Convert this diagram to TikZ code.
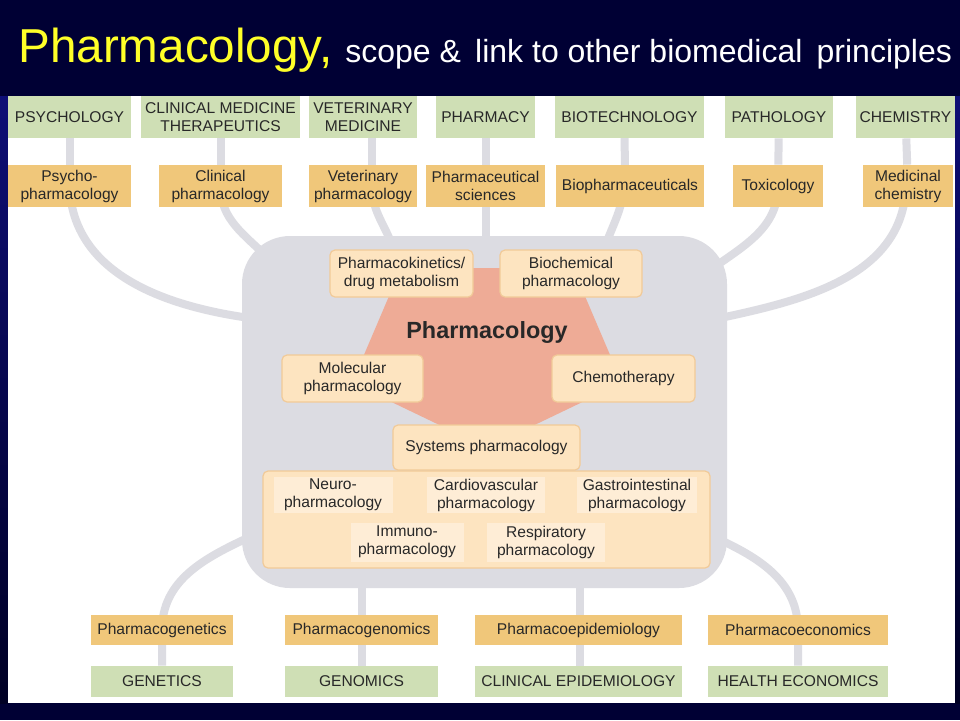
\documentclass[tikz,border=0pt]{standalone}
\usepackage{fontspec}
\setmainfont{Liberation Sans}
\pgfdeclarelayer{back}
\pgfdeclarelayer{bg}
\pgfsetlayers{back,bg,main}
\definecolor{navy}{RGB}{0,0,52}
\definecolor{edgeblue}{RGB}{14,14,118}
\definecolor{edgedark}{RGB}{0,0,36}
\definecolor{titleyellow}{RGB}{255,255,40}
\definecolor{fieldgreen}{RGB}{207,223,181}
\definecolor{branchorange}{RGB}{240,199,122}
\definecolor{peach}{RGB}{253,228,192}
\definecolor{peachline}{RGB}{241,202,152}
\definecolor{peachlight}{RGB}{254,237,214}
\definecolor{coregray}{RGB}{220,220,226}
\definecolor{salmon}{RGB}{238,171,150}
\definecolor{ink}{RGB}{40,40,40}
\tikzset{
  field/.style={fill=fieldgreen, text=ink, font=\fontsize{7.8}{9}\selectfont,
    align=center, inner sep=0pt, minimum height=21pt},
  branch/.style={field, fill=branchorange},
  topic/.style={draw=peachline, fill=peach, line width=0.6pt, rounded corners=2.5pt,
    text=ink, font=\fontsize{7.8}{9}\selectfont, align=center, inner sep=0pt,
    minimum height=23.5pt},
  part/.style={fill=peachlight, text=ink, font=\fontsize{7.8}{9}\selectfont,
    align=center, inner sep=0pt, minimum height=18pt},
  link/.style={draw=coregray, line width=4pt}
}
\begin{document}
\begin{tikzpicture}[x=0.5pt,y=-0.5pt]
\useasboundingbox (0,0) rectangle (960,720);
\begin{pgfonlayer}{back}
\fill[navy] (0,0) rectangle (960,720);
\shade[top color=edgeblue, bottom color=edgedark] (0,96) rectangle (8,703);
\shade[top color=edgeblue, bottom color=edgedark] (955,96) rectangle (960,703);
\fill[white] (8,96) rectangle (955,703);
\end{pgfonlayer}
\node[anchor=base west, inner sep=0pt, text=titleyellow, font=\fontsize{23.8}{28}\selectfont] (title) at (18,62) {Pharmacology,};
\node[anchor=base west, inner sep=0pt, text=white, font=\fontsize{16}{19}\selectfont] (subtitle) at (345,62) {scope \& \,link to other biomedical \,principles};

\node[field, minimum width=61.5pt] (psych) at (69.5,117) {PSYCHOLOGY};
\node[field, minimum width=79.5pt] (clin) at (220.5,117) {CLINICAL MEDICINE\\THERAPEUTICS};
\node[field, minimum width=54pt] (vet) at (363,117) {VETERINARY\\MEDICINE};
\node[field, minimum width=49.5pt] (pharmacy) at (485.5,117) {PHARMACY};
\node[field, minimum width=74.5pt] (biotech) at (629.5,117) {BIOTECHNOLOGY};
\node[field, minimum width=54pt] (patho) at (779,117) {PATHOLOGY};
\node[field, minimum width=49.5pt] (chem) at (905.5,117) {CHEMISTRY};

\node[branch, minimum width=61.5pt] (psychph) at (69.5,186) {Psycho-\\pharmacology};
\node[branch, minimum width=61.5pt] (clinph) at (220.5,186) {Clinical\\pharmacology};
\node[branch, minimum width=54pt] (vetph) at (363,186) {Veterinary\\pharmacology};
\node[branch, minimum width=59.5pt] (pharmsci) at (485.5,186) {Pharmaceutical\\sciences};
\node[branch, minimum width=74pt] (biopharm) at (630,186) {Biopharmaceuticals};
\node[branch, minimum width=45pt] (toxic) at (778,186) {Toxicology};
\node[branch, minimum width=45pt] (medchem) at (908,186) {Medicinal\\chemistry};

\node[fill=coregray, rounded corners=24pt, inner sep=0pt, minimum width=242.5pt, minimum height=176pt] (core) at (484.5,412) {};
\fill[salmon] (401,268) -- (573,268) -- (622,383) -- (520,432) -- (454,432) -- (352,383) -- cycle;
\node[topic, minimum width=71.5pt] (pk) at (401.5,273.5) {Pharmacokinetics/\\drug metabolism};
\node[topic, minimum width=71pt] (biochem) at (571,273.5) {Biochemical\\pharmacology};
\node[inner sep=0pt, text=ink, font=\fontsize{11.7}{14}\selectfont\bfseries] (centre) at (487,332) {Pharmacology};
\node[topic, minimum width=70.5pt] (molec) at (352.5,378.5) {Molecular\\pharmacology};
\node[topic, minimum width=71.5pt] (chemo) at (623.5,378.5) {Chemotherapy};
\node[topic, minimum width=93.5pt, minimum height=22.5pt] (systems) at (486.5,447.5) {Systems pharmacology};
\node[topic, minimum width=223.5pt, minimum height=48.5pt] (organs) at (486.5,519.5) {};
\node[part, minimum width=59.5pt] (neuro) at (333,495) {Neuro-\\pharmacology};
\node[part, minimum width=59pt] (cardio) at (486,495) {Cardiovascular\\pharmacology};
\node[part, minimum width=60pt] (gastro) at (637,495) {Gastrointestinal\\pharmacology};
\node[part, minimum width=56.5pt, minimum height=19.5pt] (immuno) at (407,542) {Immuno-\\pharmacology};
\node[part, minimum width=59pt, minimum height=19.5pt] (resp) at (546,542) {Respiratory\\pharmacology};

\node[branch, minimum width=71pt, minimum height=15pt] (pgenetics) at (162,630) {Pharmacogenetics};
\node[branch, minimum width=76.5pt, minimum height=15pt] (pgenomics) at (361.5,630) {Pharmacogenomics};
\node[branch, minimum width=103.5pt, minimum height=15pt] (pepi) at (578.5,630) {Pharmacoepidemiology};
\node[branch, minimum width=90pt, minimum height=15pt] (pecon) at (798,630) {Pharmacoeconomics};
\node[field, minimum width=71pt, minimum height=15.5pt] (genetics) at (162,681.5) {GENETICS};
\node[field, minimum width=76.5pt, minimum height=15.5pt] (genomics) at (361.5,681.5) {GENOMICS};
\node[field, minimum width=103.5pt, minimum height=15.5pt] (clinepi) at (578.5,681.5) {CLINICAL EPIDEMIOLOGY};
\node[field, minimum width=90pt, minimum height=15.5pt] (healthecon) at (798,681.5) {HEALTH ECONOMICS};

\begin{pgfonlayer}{bg}
\draw[link] (psych) -- (psychph);
\draw[link] (clin) -- (clinph);
\draw[link] ([xshift=4.5pt]vet.center) -- ([xshift=4.5pt]vetph.center);
\draw[link] (pharmacy) -- (pharmsci) -- ([yshift=-4pt]pharmsci |- core.north);
\draw[link] ([xshift=-2.5pt]biotech.center) -- ([xshift=-2.5pt]biopharm.center);
\draw[link] (patho) -- (toxic);
\draw[link] (chem) -- (medchem);
\draw[link] (psychph.center) to[out=-88,in=172] ([shift={(4pt,47pt)}]core.west);
\draw[link] (clinph.center) to[out=-90,in=135] ([shift={(13pt,-11pt)}]core.north west);
\draw[link] ([xshift=4.5pt]vetph.center) to[out=-90,in=112] ([shift={(75pt,-4pt)}]core.north west);
\draw[link] ([xshift=-3pt]biopharm.center) to[out=-95,in=70] ([shift={(-61pt,-5pt)}]core.north east);
\draw[link] (toxic.center) to[out=-90,in=35] ([shift={(-5.5pt,-15pt)}]core.north east);
\draw[link] ([xshift=-1pt]medchem.center) to[out=-92,in=12] ([shift={(-3.5pt,47pt)}]core.east);
\draw[link] (genetics) -- (pgenetics.center) to[out=90,in=205] ([shift={(4pt,-62.5pt)}]core.west);
\draw[link] (genomics) -- (pgenomics) -- ([yshift=4pt]pgenomics |- core.south);
\draw[link] ([xshift=0.75pt]clinepi.center) -- ([xshift=0.75pt]pepi.center) -- ([xshift=0.75pt,yshift=4pt]pepi |- core.south);
\draw[link] (healthecon) -- (pecon.center) to[out=90,in=-25] ([shift={(-3.5pt,-64pt)}]core.east);
\end{pgfonlayer}
\end{tikzpicture}
\end{document}
